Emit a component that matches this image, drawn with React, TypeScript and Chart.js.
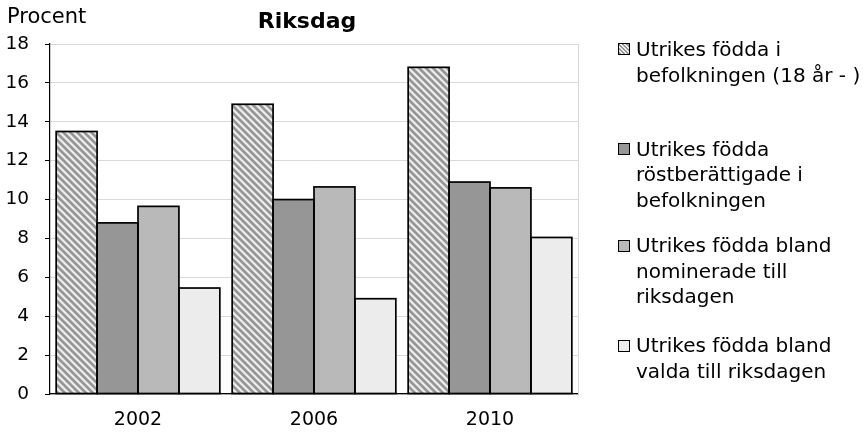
import React, { useEffect, useRef } from "react";
import { Chart, registerables } from "chart.js";

Chart.register(...registerables);

const categories = ["2002", "2006", "2010"];
const bornAbroadPopulation = [13.5, 14.9, 16.8];
const bornAbroadEligible = [8.8, 10.0, 10.9];
const bornAbroadNominated = [9.65, 10.65, 10.6];
const bornAbroadElected = [5.45, 4.9, 8.05];
const legendLines = [
  ["Utrikes födda i", "befolkningen (18 år - )"],
  ["Utrikes födda", "röstberättigade i", "befolkningen"],
  ["Utrikes födda bland", "nominerade till", "riksdagen"],
  ["Utrikes födda bland", "valda till riksdagen"],
];
const yMin = 0;
const yMax = 18;
const yStep = 2;
const titleText = "Riksdag";
const yUnitText = "Procent";

const FONT = "'DejaVu Sans', 'Liberation Sans', Arial, sans-serif";
const solidColors = ["#969696", "#b9b9b9", "#ececec"];

function makeStripes(): CanvasPattern | string {
  const size = 7;
  const c = document.createElement("canvas");
  c.width = size;
  c.height = size;
  const ctx = c.getContext("2d");
  if (!ctx) return "#bbbbbb";
  const img = ctx.createImageData(size, size);
  for (let y = 0; y < size; y++) {
    for (let x = 0; x < size; x++) {
      const d = (((x - y) % size) + size) % size;
      const v = d < 3 ? 150 : d === 3 || d === 6 ? 200 : 238;
      const i = (y * size + x) * 4;
      img.data[i] = v;
      img.data[i + 1] = v;
      img.data[i + 2] = v;
      img.data[i + 3] = 255;
    }
  }
  ctx.putImageData(img, 0, 0);
  return ctx.createPattern(c, "repeat") || "#bbbbbb";
}

const framePlugin = {
  id: "frameRight",
  beforeDatasetsDraw(chart: any) {
    const { ctx, chartArea } = chart;
    ctx.save();
    ctx.strokeStyle = "#d9d9d9";
    ctx.lineWidth = 1;
    ctx.beginPath();
    ctx.moveTo(chartArea.right + 0.5, chartArea.top);
    ctx.lineTo(chartArea.right + 0.5, chartArea.bottom);
    ctx.stroke();
    ctx.restore();
  },
};

// Excel-like outlines: centred on the bar edges, so neighbouring bars share one line
const outlinePlugin = {
  id: "barOutline",
  afterDatasetsDraw(chart: any) {
    const { ctx } = chart;
    ctx.save();
    ctx.strokeStyle = "#000";
    ctx.lineWidth = 1.7;
    chart.data.datasets.forEach((_: any, di: number) => {
      const meta = chart.getDatasetMeta(di);
      meta.data.forEach((el: any) => {
        const { x, y, base, width } = el.getProps(["x", "y", "base", "width"], true);
        const left = x - width / 2;
        ctx.strokeRect(left, Math.min(y, base), width, Math.abs(base - y));
      });
    });
    ctx.restore();
  },
};

const legendTops = [37.3, 136.6, 233.1, 333.1];
const boxCenters = [49, 149, 245.5, 346];

export default function App() {
  const ref = useRef<HTMLCanvasElement | null>(null);

  useEffect(() => {
    if (!ref.current) return;
    const stripes = makeStripes();
    const chart = new Chart(ref.current, {
      type: "bar",
      data: {
        labels: categories,
        datasets: [
          { label: legendLines[0].join(" "), data: bornAbroadPopulation, backgroundColor: stripes as any, borderWidth: 0 },
          { label: legendLines[1].join(" "), data: bornAbroadEligible, backgroundColor: solidColors[0], borderWidth: 0 },
          { label: legendLines[2].join(" "), data: bornAbroadNominated, backgroundColor: solidColors[1], borderWidth: 0 },
          { label: legendLines[3].join(" "), data: bornAbroadElected, backgroundColor: solidColors[2], borderWidth: 0 },
        ],
      },
      options: {
        responsive: false,
        animation: false,
        datasets: { bar: { categoryPercentage: 0.93, barPercentage: 1 } },
        layout: { padding: { left: 0, right: 289, top: 44, bottom: 0 } },
        plugins: {
          legend: { display: false },
          title: { display: false },
          tooltip: { enabled: false },
        },
        scales: {
          x: {
            grid: { display: false, drawTicks: false },
            border: { display: true, color: "#000", width: 1.2 },
            ticks: { font: { family: FONT, size: 19 }, color: "#000", padding: 15 },
            afterFit: (s: any) => {
              s.height = 39;
            },
          },
          y: {
            min: yMin,
            max: yMax,
            ticks: { stepSize: yStep, font: { family: FONT, size: 18.5 }, color: "#000", padding: 16 },
            grid: { color: "#d9d9d9", tickColor: "#000", tickLength: 5, lineWidth: 1 },
            border: { display: true, color: "#000", width: 1.2 },
            afterFit: (s: any) => {
              s.width = 50;
            },
          },
        },
      },
      plugins: [framePlugin, outlinePlugin],
    });
    return () => chart.destroy();
  }, []);

  const boxBg = [
    "repeating-linear-gradient(45deg, #969696 0px, #969696 1.5px, #eeeeee 1.5px, #eeeeee 3px)",
    solidColors[0],
    solidColors[1],
    solidColors[2],
  ];

  return (
    <div style={{ position: "absolute", left: 0, top: 0, width: 867, height: 433, background: "#fff", overflow: "hidden", fontFamily: FONT, color: "#000" }}>
      <canvas ref={ref} width={867} height={433} style={{ position: "absolute", left: 0, top: 0 }} />
      <div style={{ position: "absolute", left: 7, top: 5.5, fontSize: 21, lineHeight: "21px", whiteSpace: "nowrap" }}>{yUnitText}</div>
      <div style={{ position: "absolute", left: 0, width: 614, top: 10, fontSize: 22, lineHeight: "22px", fontWeight: "bold", textAlign: "center", whiteSpace: "nowrap" }}>{titleText}</div>
      {legendLines.map((lines, i) => (
        <React.Fragment key={i}>
          <div
            style={{
              position: "absolute",
              left: 618,
              top: boxCenters[i] - 6,
              width: 10,
              height: 10,
              border: "1px solid #000",
              background: boxBg[i],
            }}
          />
          <div style={{ position: "absolute", left: 636, top: legendTops[i], fontSize: 20, lineHeight: "25.5px", whiteSpace: "nowrap" }}>
            {lines.map((l, j) => (
              <div key={j}>{l}</div>
            ))}
          </div>
        </React.Fragment>
      ))}
    </div>
  );
}
